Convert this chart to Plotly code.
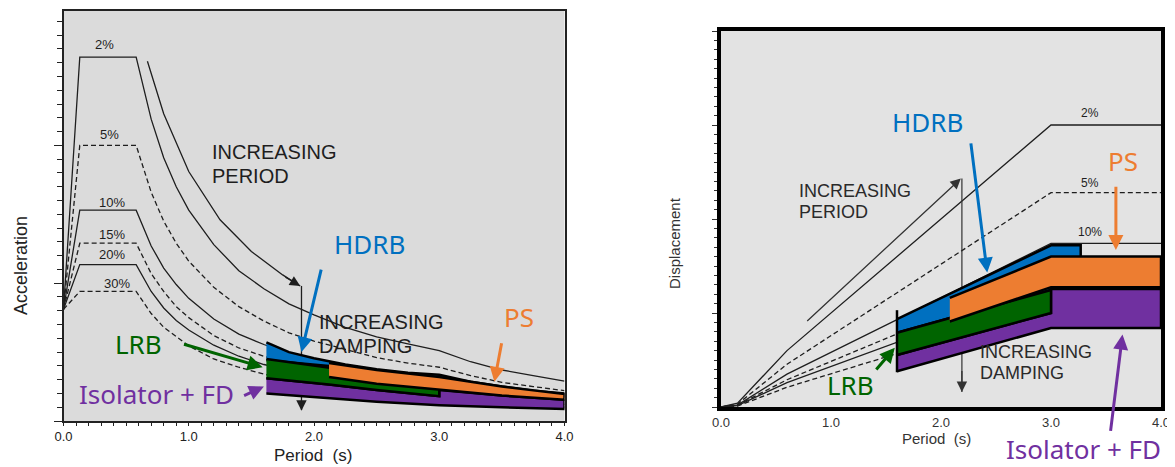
import plotly.graph_objects as go

# ---------------- data: acceleration spectra (left) ----------------
acc_T = [0.0, 0.13, 0.58, 0.7, 0.8, 0.9, 1.0, 1.2, 1.4, 1.6, 1.8, 2.0, 2.25, 2.5, 2.75, 3.0, 3.25, 3.5, 3.75, 4.0]
acc_2 = [0.81, 2.64, 2.64, 2.19, 1.91, 1.70, 1.53, 1.28, 1.09, 0.96, 0.85, 0.77, 0.68, 0.61, 0.56, 0.51, 0.43, 0.37, 0.33, 0.29]
acc_5 = [0.81, 2.00, 2.00, 1.66, 1.45, 1.29, 1.16, 0.97, 0.83, 0.725, 0.64, 0.58, 0.52, 0.46, 0.42, 0.39, 0.33, 0.28, 0.25, 0.22]
acc_10 = [0.81, 1.53, 1.53, 1.27, 1.11, 0.99, 0.89, 0.74, 0.63, 0.555, 0.49, 0.44, 0.39, 0.355, 0.32, 0.30, 0.25, 0.22, 0.19, 0.17]
acc_15 = [0.81, 1.29, 1.29, 1.07, 0.94, 0.83, 0.75, 0.62, 0.53, 0.47, 0.42, 0.37, 0.33, 0.30, 0.27, 0.25, 0.21, 0.18, 0.16, 0.14]
acc_20 = [0.81, 1.135, 1.135, 0.94, 0.82, 0.73, 0.66, 0.55, 0.47, 0.41, 0.37, 0.33, 0.29, 0.26, 0.24, 0.22, 0.19, 0.16, 0.14, 0.12]
acc_30 = [0.81, 0.94, 0.94, 0.78, 0.68, 0.61, 0.545, 0.45, 0.39, 0.34, 0.30, 0.27, 0.24, 0.22, 0.20, 0.18, 0.155, 0.13, 0.12, 0.10]
damping_labels = ["2%", "5%", "10%", "15%", "20%", "30%"]
acc_label_T = [0.33, 0.37, 0.39, 0.39, 0.39, 0.43]
acc_label_v = [2.73, 2.08, 1.585, 1.35, 1.21, 1.0]

# increasing-period arrow (left)
per_T = [0.67, 0.8, 1.0, 1.25, 1.5, 1.75, 1.89]
per_v = [2.61, 2.23, 1.81, 1.46, 1.23, 1.06, 0.98]
per_drop_T = [1.9, 1.9]
per_drop_v = [0.98, 0.08]

# isolator regions (left)
hdrb_acc_T = [1.62, 1.8, 2.0, 2.25, 2.5, 2.75, 3.0, 3.25, 3.5, 3.75, 4.0, 4.0, 2.12, 1.62]
hdrb_acc_v = [0.57, 0.50, 0.455, 0.41, 0.375, 0.35, 0.335, 0.285, 0.25, 0.22, 0.20, 0.18, 0.40, 0.44]
ps_acc_T = [2.12, 2.5, 3.0, 3.5, 4.0, 4.0, 3.5, 3.0, 2.5, 2.12]
ps_acc_v = [0.42, 0.37, 0.32, 0.25, 0.195, 0.155, 0.185, 0.225, 0.27, 0.32]
lrb_acc_T = [1.62, 2.12, 2.5, 3.0, 3.0, 2.5, 2.12, 1.62]
lrb_acc_v = [0.45, 0.385, 0.34, 0.28, 0.18, 0.225, 0.265, 0.31]
fd_acc_T = [1.62, 2.12, 2.5, 3.0, 3.0, 3.5, 4.0, 4.0, 3.5, 3.0, 2.5, 2.0, 1.62]
fd_acc_v = [0.31, 0.265, 0.225, 0.18, 0.225, 0.185, 0.155, 0.087, 0.10, 0.115, 0.14, 0.175, 0.20]

# ---------------- data: displacement spectra (right) ----------------
dis_T = [0.0, 0.15, 0.6, 3.0, 4.0]
dis_2 = [0.0, 0.04, 0.60, 3.00, 3.00]
dis_5 = [0.0, 0.03, 0.455, 2.28, 2.28]
dis_10 = [0.0, 0.02, 0.35, 1.74, 1.74]
dis_15 = [0.0, 0.02, 0.29, 1.46, 1.46]
dis_20 = [0.0, 0.015, 0.26, 1.29, 1.29]
dis_30 = [0.0, 0.01, 0.21, 1.07, 1.07]
dis_label_T = [3.35, 3.35, 3.35]
dis_label_v = [3.13, 2.38, 1.86]

hdrb_dis_T = [1.6, 3.0, 3.27, 3.27, 3.0, 1.6]
hdrb_dis_v = [0.936, 1.72, 1.72, 1.55, 1.245, 0.79]
ps_dis_T = [2.08, 3.0, 4.0, 4.0, 3.0, 2.08]
ps_dis_v = [1.16, 1.60, 1.60, 1.275, 1.275, 0.91]
lrb_dis_T = [1.6, 3.0, 3.0, 1.6]
lrb_dis_v = [0.79, 1.245, 1.0, 0.553]
fd_dis_T = [1.6, 3.0, 4.0, 4.0, 3.0, 3.0, 1.6]
fd_dis_v = [0.38, 0.84, 0.84, 1.255, 1.255, 1.0, 0.553]
edge_dis_T = [1.6, 1.6]
edge_dis_v = [1.03, 0.37]

dper_drop_T = [2.19, 2.19]
dper_drop_v = [2.43, 0.16]

C_BLUE = "#0070C0"
C_GREEN = "#006400"
C_PURPLE = "#7030A0"
C_ORANGE = "#ED7D31"
INK = "#1e1e1e"
FONT = "Liberation Sans"
LFONT = "Noto Sans"

# the page body has an 8px margin; figure is sized so that it ends at the window edge
OFF = 8
FW, FH = 1175 - OFF, 467 - OFF


def PX(X):
    return (X - OFF) / FW


def PY(Y):
    return 1 - (Y - OFF) / FH


fig = go.Figure()


def line(x, y, xa, ya, dash="solid", width=1.3, color=INK):
    fig.add_trace(go.Scatter(x=x, y=y, xaxis=xa, yaxis=ya, mode="lines",
                             line=dict(color=color, width=width, dash=dash),
                             hoverinfo="skip", showlegend=False))


def poly(x, y, xa, ya, color):
    fig.add_trace(go.Scatter(x=x, y=y, xaxis=xa, yaxis=ya, mode="lines", fill="toself",
                             fillcolor=color, line=dict(color="black", width=2.5),
                             hoverinfo="skip", showlegend=False))


dashes = ["solid", "5px,3px", "solid", "5px,3px", "solid", "5px,3px"]
for vals, d in zip([acc_2, acc_5, acc_10, acc_15, acc_20, acc_30], dashes):
    line(acc_T, vals, "x", "y", d)
line(per_T, per_v, "x", "y")
line(per_drop_T, per_drop_v, "x", "y")
poly(hdrb_acc_T, hdrb_acc_v, "x", "y", C_BLUE)
poly(fd_acc_T, fd_acc_v, "x", "y", C_PURPLE)
poly(lrb_acc_T, lrb_acc_v, "x", "y", C_GREEN)
poly(ps_acc_T, ps_acc_v, "x", "y", C_ORANGE)

for vals, d in zip([dis_2, dis_5, dis_10, dis_15, dis_20, dis_30], dashes):
    line(dis_T, vals, "x2", "y2", d)
line(dper_drop_T, dper_drop_v, "x2", "y2", width=1.2, color="#333")
poly(hdrb_dis_T, hdrb_dis_v, "x2", "y2", C_BLUE)
poly(fd_dis_T, fd_dis_v, "x2", "y2", C_PURPLE)
poly(lrb_dis_T, lrb_dis_v, "x2", "y2", C_GREEN)
poly(ps_dis_T, ps_dis_v, "x2", "y2", C_ORANGE)
line(edge_dis_T, edge_dis_v, "x2", "y2", width=2.5, color="black")

ann = []
for t, v, s in zip(acc_label_T, acc_label_v, damping_labels):
    ann.append(dict(x=t, y=v, xref="x", yref="y", text=s, showarrow=False,
                    xanchor="center", yanchor="middle",
                    font=dict(family=FONT, size=13, color=INK)))
for t, v, s in zip(dis_label_T, dis_label_v, damping_labels[:3]):
    ann.append(dict(x=t, y=v, xref="x2", yref="y2", text=s, showarrow=False,
                    xanchor="center", yanchor="middle",
                    font=dict(family=FONT, size=12, color=INK)))


def txt(x, y, s, xref, yref, size, color=INK, family=FONT, xanchor="left", angle=0):
    ann.append(dict(x=x, y=y, xref=xref, yref=yref, text=s, showarrow=False,
                    xanchor=xanchor, yanchor="middle", textangle=angle,
                    font=dict(family=family, size=size, color=color)))


def arrow(x, y, ax, ay, xref, yref, color, width=3, head=2, size=1.0):
    ann.append(dict(x=x, y=y, ax=ax, ay=ay, xref=xref, yref=yref, axref=xref, ayref=yref,
                    text="", showarrow=True, arrowhead=head, arrowsize=size,
                    arrowwidth=width, arrowcolor=color))


# left texts
txt(1.166, 1.95, "INCREASING", "x", "y", 20)
txt(1.166, 1.775, "PERIOD", "x", "y", 20)
txt(2.02, 0.72, "INCREASING", "x", "y", 20)
txt(2.02, 0.545, "DAMPING", "x", "y", 20)
# right texts
txt(0.69, 2.30, "INCREASING", "x2", "y2", 18, color="#2a2a2a")
txt(0.69, 2.07, "PERIOD", "x2", "y2", 18, color="#2a2a2a")
txt(2.34, 0.59, "INCREASING", "x2", "y2", 18, color="#2a2a2a")
txt(2.34, 0.36, "DAMPING", "x2", "y2", 18, color="#2a2a2a")

# black arrows
arrow(1.89, 0.98, 1.76, 1.05, "x", "y", INK, width=1.3, head=2, size=1.6)
arrow(1.9, 0.075, 1.9, 0.16, "x", "y", INK, width=1.3, head=2, size=1.6)
arrow(2.18, 2.43, 0.77, 0.90, "x2", "y2", "#333", width=1.3, head=2, size=1.6)
arrow(2.19, 0.16, 2.19, 0.4, "x2", "y2", "#333", width=1.3, head=2, size=1.6)

# colored labels & arrows, left
txt(PX(369), PY(244), "HDRB", "paper", "paper", 26, C_BLUE, LFONT, "center")
txt(PX(519), PY(317), "PS", "paper", "paper", 26, C_ORANGE, LFONT, "center")
txt(PX(138), PY(344), "LRB", "paper", "paper", 26, C_GREEN, LFONT, "center")
txt(PX(156), PY(394), "Isolator + FD", "paper", "paper", 26, C_PURPLE, LFONT, "center")
arrow(1.90, 0.50, 2.06, 1.11, "x", "y", C_BLUE)
arrow(3.44, 0.284, 3.50, 0.575, "x", "y", C_ORANGE)
arrow(1.59, 0.39, 0.95, 0.56, "x", "y", C_GREEN)
arrow(1.60, 0.25, 1.43, 0.18, "x", "y", C_PURPLE)

# colored labels & arrows, right
txt(PX(927), PY(122), "HDRB", "paper", "paper", 26, C_BLUE, LFONT, "center")
txt(PX(1123), PY(161), "PS", "paper", "paper", 26, C_ORANGE, LFONT, "center")
txt(PX(850), PY(385), "LRB", "paper", "paper", 26, C_GREEN, LFONT, "center")
txt(PX(1083), PY(449), "Isolator + FD", "paper", "paper", 26, C_PURPLE, LFONT, "center")
arrow(2.42, 1.43, 2.27, 2.82, "x2", "y2", C_BLUE)
arrow(3.59, 1.67, 3.59, 2.36, "x2", "y2", C_ORANGE)
arrow(1.58, 0.63, 1.40, 0.383, "x2", "y2", C_GREEN)
arrow(3.65, 0.77, 3.54, -0.27, "x2", "y2", C_PURPLE)

# axis titles
txt(PX(313), PY(455), "Period  (s)", "paper", "paper", 17, "#222", FONT, "center")
txt(PX(21), PY(266), "Acceleration", "paper", "paper", 18, "#222", FONT, "center", -90)
txt(PX(937), PY(438), "Period  (s)", "paper", "paper", 15, "#333", FONT, "center")
txt(PX(674), PY(243), "Displacement", "paper", "paper", 15, "#333", FONT, "center", -90)

fig.update_layout(
    width=FW, height=FH, margin=dict(l=0, r=0, t=0, b=0, autoexpand=False),
    paper_bgcolor="white", plot_bgcolor="#DBDBDB",
    annotations=ann,
    shapes=[dict(type="rect", xref="x2 domain", yref="y2 domain", x0=0, x1=1, y0=0, y1=1,
                 fillcolor="#E3E3E3", line=dict(width=0), layer="below")],
    xaxis=dict(domain=[PX(63.5), PX(564.5)], range=[0, 4], dtick=1, tickformat=".1f",
               ticks="outside", ticklen=3, tickcolor="#222", showline=True, mirror=True,
               linecolor="#222", linewidth=1.5, showgrid=False, zeroline=False, automargin=False,
               minor=dict(dtick=0.1, ticks="outside", ticklen=3, tickcolor="#222"),
               tickfont=dict(family=FONT, size=13, color="#222"), fixedrange=True),
    yaxis=dict(domain=[PY(421), PY(11)], range=[0, 2.975], dtick=1,
               showticklabels=False, ticks="outside", ticklen=8, tickcolor="#222", automargin=False,
               showline=True, mirror=True, linecolor="#222", linewidth=1.5, showgrid=False,
               zeroline=False, minor=dict(dtick=0.1, ticks="outside", ticklen=5, tickcolor="#222")),
    xaxis2=dict(domain=[PX(721), PX(1161)], range=[0, 4], dtick=1, tickformat=".1f",
                anchor="y2", ticks="", showline=True, mirror=True, linecolor="black", linewidth=4,
                showgrid=False, zeroline=False, automargin=False,
                tickfont=dict(family=FONT, size=13, color="#333")),
    yaxis2=dict(domain=[PY(407), PY(31)], range=[0, 4.0], dtick=1,
                anchor="x2", showticklabels=False, ticks="outside", ticklen=5, tickcolor="#333",
                showline=True, mirror=True, linecolor="black", linewidth=4, showgrid=False,
                zeroline=False, automargin=False,
                minor=dict(dtick=0.1, ticks="outside", ticklen=3, tickcolor="#333")),
)

fig.write_html("out.html")
